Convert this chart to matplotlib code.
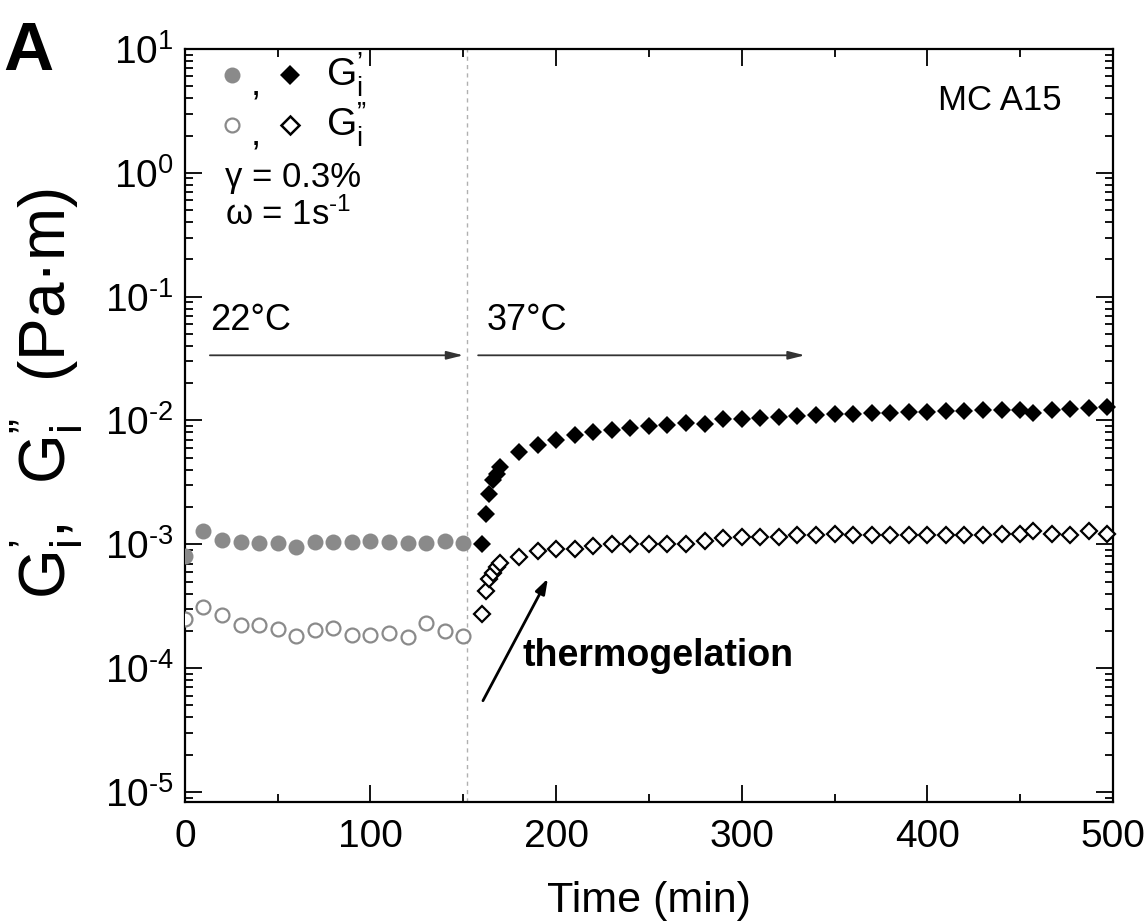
import numpy as np
import matplotlib
matplotlib.use("Agg")
import matplotlib.pyplot as plt
from matplotlib.ticker import LogLocator, MultipleLocator, NullFormatter, FuncFormatter

plt.rcParams['font.family'] = ['Liberation Sans', 'DejaVu Sans']
plt.rcParams['mathtext.fontset'] = 'custom'
plt.rcParams['mathtext.rm'] = 'Liberation Sans'
plt.rcParams['mathtext.it'] = 'Liberation Sans:italic'
plt.rcParams['mathtext.bf'] = 'Liberation Sans:bold'
plt.rcParams['axes.unicode_minus'] = False

# 22 C stage (gray circles)
t_cold = [0, 10, 20, 30, 40, 50, 60, 70, 80, 90, 100, 110, 120, 130, 140, 150]
g1_cold = [8.0e-4, 1.27e-3, 1.09e-3, 1.05e-3, 1.02e-3, 1.03e-3, 0.96e-3, 1.05e-3,
           1.05e-3, 1.05e-3, 1.07e-3, 1.05e-3, 1.03e-3, 1.02e-3, 1.07e-3, 1.03e-3]
g2_cold = [2.51e-4, 3.14e-4, 2.70e-4, 2.25e-4, 2.25e-4, 2.09e-4, 1.83e-4, 2.05e-4,
           2.12e-4, 1.87e-4, 1.87e-4, 1.94e-4, 1.77e-4, 2.33e-4, 2.01e-4, 1.83e-4]

# 37 C stage (diamonds)
t_hot = [160, 162, 164, 166, 168, 170, 180, 190, 200, 210, 220, 230, 240, 250,
         260, 270, 280, 290, 300, 310, 320, 330, 340, 350, 360, 370, 380, 390,
         400, 410, 420, 430, 440, 450, 457, 467, 477, 487, 497]
g1_hot = [1.0e-3, 1.77e-3, 2.57e-3, 3.28e-3, 3.73e-3, 4.25e-3, 5.52e-3, 6.29e-3,
          6.90e-3, 7.58e-3, 8.02e-3, 8.32e-3, 8.63e-3, 8.96e-3, 9.12e-3, 9.48e-3,
          9.4e-3, 1.02e-2, 1.035e-2, 1.045e-2, 1.064e-2, 1.079e-2, 1.099e-2, 1.12e-2,
          1.135e-2, 1.148e-2, 1.156e-2, 1.169e-2, 1.178e-2, 1.185e-2, 1.192e-2,
          1.208e-2, 1.208e-2, 1.223e-2, 1.148e-2, 1.223e-2, 1.245e-2, 1.258e-2, 1.28e-2]
g2_hot = [2.76e-4, 4.23e-4, 5.28e-4, 5.91e-4, 6.61e-4, 7.13e-4, 7.96e-4, 8.91e-4,
          9.24e-4, 9.24e-4, 9.77e-4, 1.01e-3, 1.01e-3, 1.01e-3, 1.01e-3, 1.01e-3,
          1.06e-3, 1.12e-3, 1.14e-3, 1.14e-3, 1.14e-3, 1.19e-3, 1.18e-3, 1.22e-3,
          1.19e-3, 1.18e-3, 1.18e-3, 1.18e-3, 1.18e-3, 1.19e-3, 1.18e-3, 1.19e-3,
          1.22e-3, 1.22e-3, 1.29e-3, 1.22e-3, 1.19e-3, 1.29e-3, 1.22e-3]

t_switch = 152

gray = '#8a8a8a'


def pow10(v, pos):
    e = int(round(np.log10(v)))
    return r"10$^{\text{%d}}$" % e


fig = plt.figure(figsize=(11.48, 9.24), dpi=100)
ax = fig.add_axes([0.161, 0.132, 0.8085, 0.815])

ax.plot(t_cold, g1_cold, 'o', ms=11.5, mfc=gray, mec=gray, mew=0, zorder=3)
ax.plot(t_cold, g2_cold, 'o', ms=10, mfc='white', mec=gray, mew=1.6, zorder=3)
ax.plot(t_hot, g1_hot, 'D', ms=9, mfc='black', mec='black', mew=0, clip_on=False, zorder=3)
ax.plot(t_hot, g2_hot, 'D', ms=8.5, mfc='white', mec='black', mew=1.6, clip_on=False, zorder=3)

ax.axvline(t_switch, color='#b0b0b0', ls=(0, (3, 3)), lw=1.0, zorder=1)

ax.set_yscale('log')
ax.set_xlim(0, 500)
ax.set_ylim(8.3e-6, 10)
ax.xaxis.set_major_locator(MultipleLocator(100))
ax.xaxis.set_minor_locator(MultipleLocator(50))
ax.yaxis.set_major_locator(LogLocator(base=10, numticks=10))
ax.yaxis.set_minor_locator(LogLocator(base=10, subs=np.arange(2, 10), numticks=20))
ax.yaxis.set_major_formatter(FuncFormatter(pow10))
ax.yaxis.set_minor_formatter(NullFormatter())

ax.tick_params(which='both', direction='in', top=True, right=True, width=1.3)
ax.tick_params(which='major', length=12, labelsize=28, pad=8)
ax.tick_params(which='minor', length=6)
ax.tick_params(axis='x', which='major', pad=12)
for s in ax.spines.values():
    s.set_linewidth(1.6)

ax.set_xlabel('Time (min)', fontsize=31, labelpad=19)
ax.set_ylabel("G$_\\mathregular{i}^{’}$,  G$_\\mathregular{i}^{”}$  (Pa·m)", fontsize=46)
ax.yaxis.set_label_coords(-0.108, 0.542)

# temperature stage arrows
ax.annotate('', xy=(150, 0.0336), xytext=(13.5, 0.0336),
            arrowprops=dict(arrowstyle='-|>,head_length=1.0,head_width=0.25',
                            color='#333333', lw=1.3, shrinkA=0, shrinkB=0))
ax.annotate('', xy=(334, 0.0336), xytext=(158, 0.0336),
            arrowprops=dict(arrowstyle='-|>,head_length=1.0,head_width=0.25',
                            color='#333333', lw=1.3, shrinkA=0, shrinkB=0))
ax.text(13.5, 0.064, '22°C', fontsize=26, va='center', ha='left')
ax.text(162.5, 0.064, '37°C', fontsize=26, va='center', ha='left')

# thermogelation arrow
ax.annotate('', xy=(195.6, 5.3e-4), xytext=(160.6, 5.46e-5),
            arrowprops=dict(arrowstyle='-|>,head_length=0.9,head_width=0.3',
                            color='black', lw=2.0, shrinkA=0, shrinkB=0))
ax.text(182, 1.26e-4, 'thermogelation', fontsize=27, fontweight='bold',
        va='center', ha='left')

ax.text(0.878, 0.932, 'MC A15', transform=ax.transAxes, fontsize=25,
        ha='center', va='center')

# legend block
tr = ax.transAxes
ax.plot([0.0506], [0.9655], 'o', ms=11.5, mfc=gray, mec=gray, mew=0, transform=tr)
ax.plot([0.113], [0.9655], 'D', ms=10, mfc='black', mec='black', mew=0, transform=tr)
ax.plot([0.0506], [0.899], 'o', ms=10, mfc='white', mec=gray, mew=1.6, transform=tr)
ax.plot([0.113], [0.899], 'D', ms=9, mfc='white', mec='black', mew=1.8, transform=tr)
ax.text(0.077, 0.952, ',', transform=tr, fontsize=26, ha='center', va='center')
ax.text(0.077, 0.886, ',', transform=tr, fontsize=26, ha='center', va='center')
ax.text(0.152, 0.9655, "G$_\\mathregular{i}^{’}$", transform=tr, fontsize=28, va='center')
ax.text(0.152, 0.899, "G$_\\mathregular{i}^{”}$", transform=tr, fontsize=28, va='center')
ax.text(0.043, 0.829, 'γ = 0.3%', transform=tr, fontsize=25, va='center')
ax.text(0.043, 0.780, r'ω = 1s$^{\text{-1}}$', transform=tr, fontsize=25, va='center')

fig.text(0.003, 0.924, 'A', fontsize=50, fontweight='bold', va='baseline', ha='left')

fig.savefig('out.png', dpi=100)
